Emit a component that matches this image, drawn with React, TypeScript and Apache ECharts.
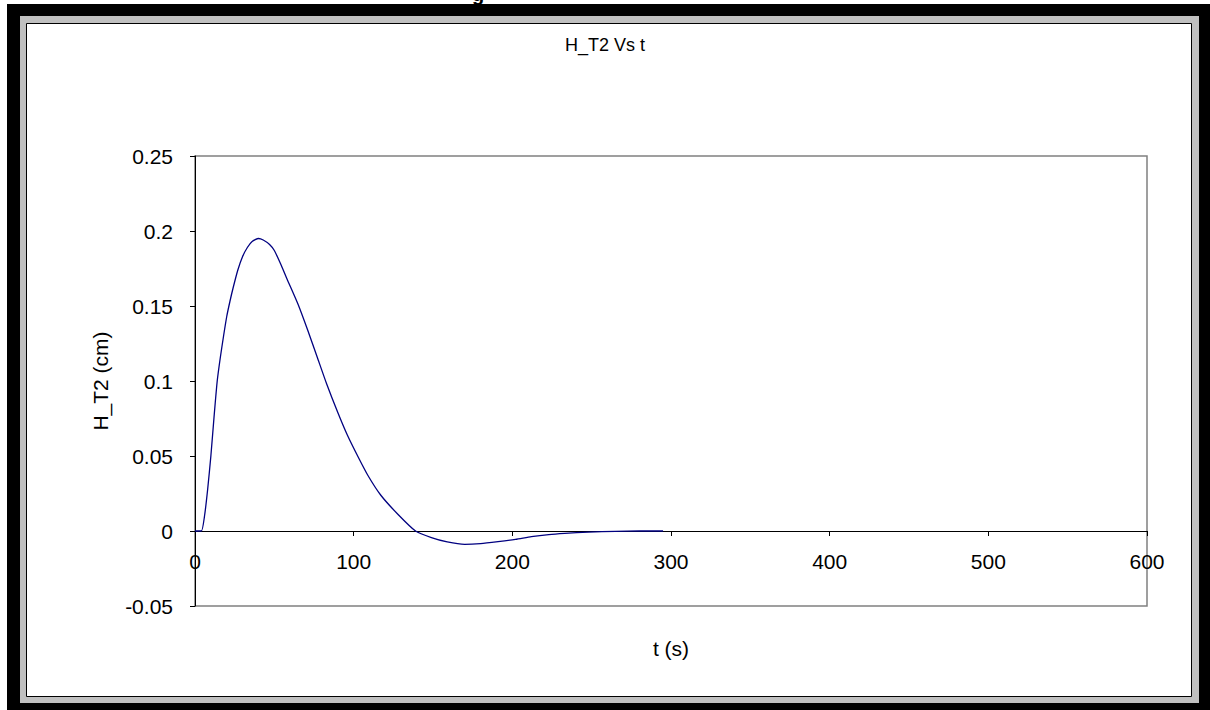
import React, { useEffect, useRef } from "react";
import * as echarts from "echarts";

const FONT = "Arial, 'Liberation Sans', sans-serif";

const chartTitle = "H_T2 Vs t";
const xAxisTitle = "t (s)";
const yAxisTitle = "H_T2 (cm)";

// time (s)
const tValues = [
  0, 4, 6, 8, 10, 12, 14, 16, 18, 20, 22, 24, 27, 30, 33, 36, 40, 43, 47, 50,
  54, 58, 65, 71, 77, 83, 90, 96, 103, 109, 117, 128, 139, 149, 159, 170, 180,
  191, 202, 212, 223, 233, 248, 265, 280, 295,
];
// H_T2 (cm)
const hValues = [
  0, 0, 0.01, 0.028, 0.05, 0.076, 0.1, 0.116, 0.13, 0.143, 0.153, 0.162, 0.174,
  0.183, 0.189, 0.193, 0.195, 0.194, 0.191, 0.187, 0.178, 0.168, 0.151, 0.134,
  0.116, 0.098, 0.079, 0.064, 0.049, 0.037, 0.024, 0.011, 0, -0.0044, -0.0073,
  -0.0089, -0.0084, -0.0071, -0.0056, -0.0038, -0.0024, -0.0016, -0.0007,
  -0.0002, 0, 0,
];

const xMin = 0;
const xMax = 600;
const xStep = 100;
const yMin = -0.05;
const yMax = 0.25;
const yStep = 0.05;

const GRID_TOP = 156;
const GRID_H = 450;

export default function App() {
  const ref = useRef<HTMLDivElement>(null);

  useEffect(() => {
    if (!ref.current) return;
    const chart = echarts.init(ref.current, null, { renderer: "svg" });
    const data = tValues.map((t, i) => [t, hValues[i]]);
    // distance from grid bottom to the zero line
    const zeroOffset = (GRID_H * (0 - yMin)) / (yMax - yMin);
    chart.setOption({
      animation: false,
      backgroundColor: "#ffffff",
      graphic: [
        {
          type: "rect",
          z: -10,
          silent: true,
          shape: { x: 7, y: 4, width: 1203, height: 706 },
          style: { fill: "#000000" },
        },
        {
          type: "rect",
          z: -9,
          silent: true,
          shape: { x: 20, y: 16, width: 1179, height: 687 },
          style: { fill: "#c0c0c0" },
        },
        {
          type: "rect",
          z: -8,
          silent: true,
          shape: { x: 26.5, y: 23.5, width: 1165, height: 673 },
          style: { fill: "#ffffff", stroke: "#000000", lineWidth: 1 },
        },
        {
          type: "text",
          z: -7,
          silent: true,
          x: 472,
          y: 4,
          style: {
            text: "g",
            font: `bold 20px ${FONT}`,
            fill: "#000000",
            verticalAlign: "bottom",
          },
        },
      ],
      title: {
        text: chartTitle,
        left: "center",
        top: 31,
        textStyle: {
          fontFamily: FONT,
          fontSize: 18,
          fontWeight: "normal",
          color: "#000000",
        },
      },
      grid: {
        left: 195,
        top: GRID_TOP,
        width: 952,
        height: GRID_H,
        containLabel: false,
        outerBoundsMode: "none",
        show: true,
        borderColor: "#808080",
        borderWidth: 1.5,
        backgroundColor: "transparent",
      },
      xAxis: {
        type: "value",
        position: "bottom",
        offset: -zeroOffset,
        min: xMin,
        max: xMax,
        interval: xStep,
        name: xAxisTitle,
        nameLocation: "middle",
        nameGap: 107,
        nameMoveOverlap: false,
        nameTextStyle: { fontFamily: FONT, fontSize: 21, color: "#000000" },
        axisLine: { onZero: false, lineStyle: { color: "#000000", width: 1 } },
        axisTick: { show: true, length: 5, lineStyle: { color: "#000000" } },
        axisLabel: {
          fontFamily: FONT,
          fontSize: 21,
          color: "#000000",
          margin: 20,
        },
        splitLine: { show: false },
      },
      yAxis: {
        type: "value",
        min: yMin,
        max: yMax,
        interval: yStep,
        name: yAxisTitle,
        nameLocation: "middle",
        nameGap: 84,
        nameMoveOverlap: false,
        nameTextStyle: { fontFamily: FONT, fontSize: 21, color: "#000000" },
        axisLine: { show: true, onZero: false, lineStyle: { color: "#000000", width: 1 } },
        axisTick: { show: true, length: 5, lineStyle: { color: "#000000" } },
        axisLabel: {
          fontFamily: FONT,
          fontSize: 21,
          color: "#000000",
          margin: 22,
          formatter: (v: number) => String(Math.round(v * 100) / 100),
        },
        splitLine: { show: false },
      },
      series: [
        {
          type: "line",
          data,
          smooth: 0.2,
          showSymbol: false,
          symbol: "none",
          lineStyle: { color: "#000080", width: 1.3 },
          z: 3,
        },
      ],
    });
    return () => chart.dispose();
  }, []);

  return (
    <div
      ref={ref}
      style={{ position: "absolute", left: 0, top: 0, width: 1210, height: 710 }}
    />
  );
}
